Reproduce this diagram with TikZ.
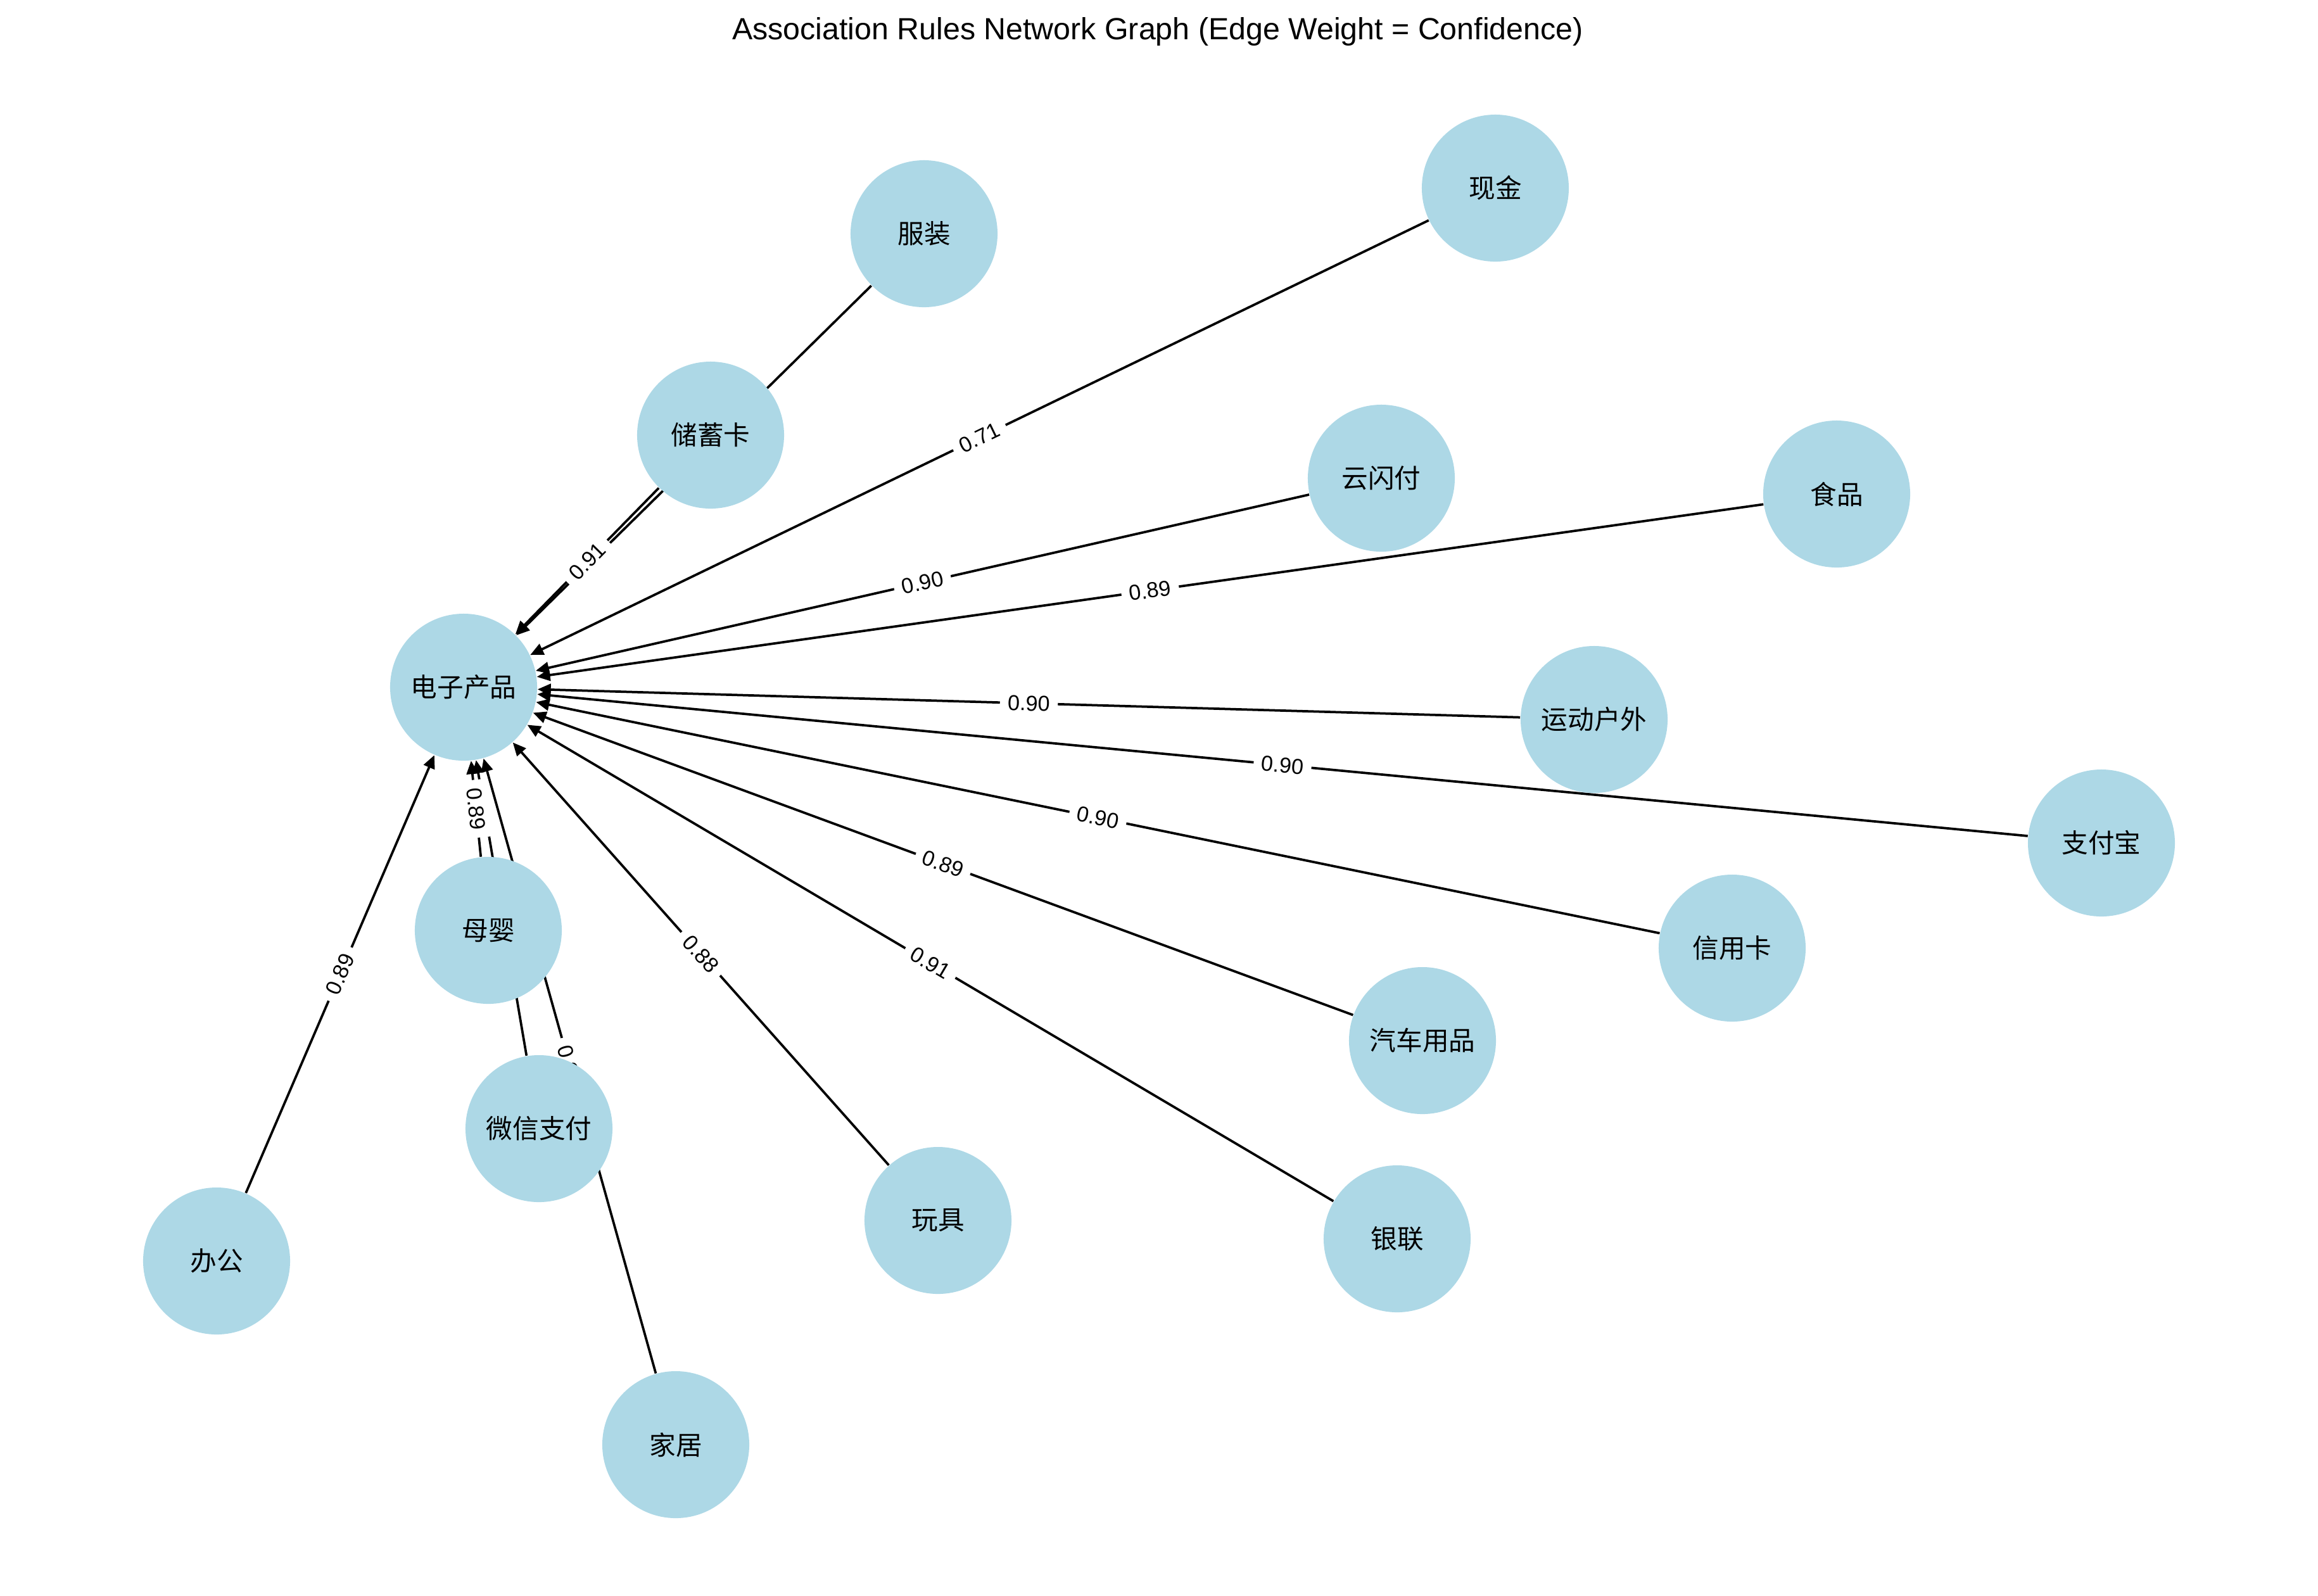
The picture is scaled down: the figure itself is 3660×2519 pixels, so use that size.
\documentclass[tikz,border=0pt]{standalone}
\usepackage{fontspec}
\setmainfont{Liberation Sans}
\newfontfamily\cjk{Noto Sans CJK SC}
\usepackage{tikz}
\usetikzlibrary{arrows.meta}
\definecolor{lightblue}{HTML}{ADD8E6}
\pgfdeclarelayer{back}
\pgfsetlayers{back,main}

\begin{document}
\begin{tikzpicture}[% positions are given in pixels of the picture
			x=0.24pt,y=-0.24pt,
			every node/.style={
				align=center		% keep the "\\" working
			},
			item/.style={circle,fill=lightblue,minimum size=55.7pt,inner sep=0pt,font=\cjk\fontsize{10}{12}\selectfont},
			weight/.style={midway,sloped,fill=white,rounded corners=2pt,inner sep=3pt,font=\fontsize{8.2}{10}\selectfont},
			every edge/.style={draw,line width=0.9pt}
		]
		\useasboundingbox (0,0) rectangle (3660,2519);
		\node(T) at (1828,50) {\fontsize{11.6}{14}\selectfont Association Rules Network Graph (Edge Weight = Confidence)};
		\node[item](N0) at (732,1085) {电子产品};
		\node[item](N1) at (1459,369) {服装};
		\node[item](N2) at (1122,687) {储蓄卡};
		\node[item](N3) at (2361,297) {现金};
		\node[item](N4) at (2181,755) {云闪付};
		\node[item](N5) at (2900,780) {食品};
		\node[item](N6) at (2517,1136) {运动户外};
		\node[item](N7) at (3318,1331) {支付宝};
		\node[item](N8) at (2735,1497) {信用卡};
		\node[item](N9) at (2246,1643) {汽车用品};
		\node[item](N10) at (2206,1956) {银联};
		\node[item](N11) at (1481,1927) {玩具};
		\node[item](N12) at (1067,2281) {家居};
		\node[item](N13) at (851,1782) {微信支付};
		\node[item](N14) at (771,1469) {母婴};
		\node[item](N15) at (342,1991) {办公};
		\begin{pgfonlayer}{back}
		\path[-{Triangle[length=5pt,width=4.4pt]}]
		(N1)edge []	(N0)
		(N2)edge []	node [weight] {0.91} (N0)
		(N3)edge []	node [weight] {0.71} (N0)
		(N4)edge []	node [weight] {0.90} (N0)
		(N5)edge []	node [weight] {0.89} (N0)
		(N6)edge []	node [weight] {0.90} (N0)
		(N7)edge []	node [weight] {0.90} (N0)
		(N8)edge []	node [weight] {0.90} (N0)
		(N9)edge []	node [weight] {0.89} (N0)
		(N10)edge []	node [weight] {0.91} (N0)
		(N11)edge []	node [weight] {0.88} (N0)
		(N12)edge []	node [weight] {0.90} (N0)
		(N13)edge []	(N0)
		(N14)edge []	node [weight] {0.89} (N0)
		(N15)edge []	node [weight] {0.89} (N0)
		;
		\end{pgfonlayer}
	\end{tikzpicture}
\end{document}
